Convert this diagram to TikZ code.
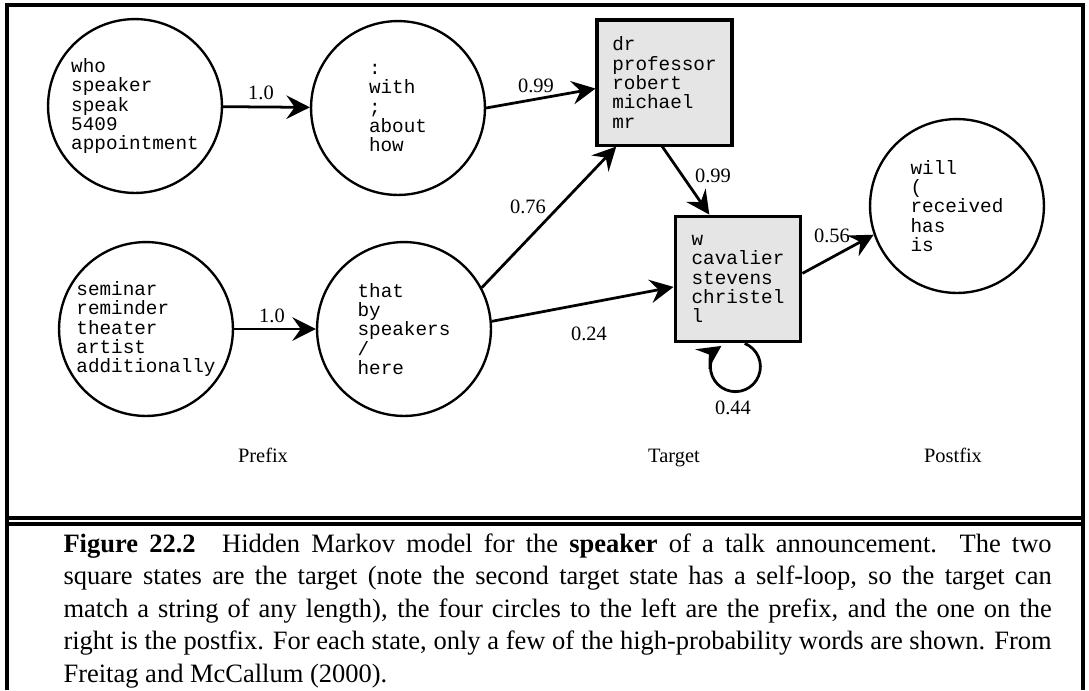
\documentclass[tikz,border=0pt]{standalone}
\usepackage{fontspec}
\setmainfont{Liberation Serif}
\setmonofont{Liberation Mono}
\usetikzlibrary{arrows.meta}

\tikzset{
  words/.style={inner sep=0pt, align=left, font=\fontsize{7}{7}\selectfont\ttfamily,
    execute at begin node={\rule{0pt}{8.4pt}}},
  state/.style={words, circle, draw, line width=0.85pt, minimum size=63pt},
  target/.style={words, rectangle, draw, line width=1.1pt, fill=black!10},
  trans/.style={-{Stealth[length=8.5pt,width=8.5pt,inset=3pt]}, line width=1pt},
  prob/.style={font=\fontsize{7.4}{8}\selectfont, inner sep=0pt},
}

\begin{document}
\begin{tikzpicture}[x=0.3623pt, y=0.3623pt]
  \useasboundingbox (0,0) rectangle (1089,-690);

  % Frame and double rule above the caption
  \draw[line width=1.3pt] (7,-690) -- (7,-5) -- (1083,-5) -- (1083,-690);
  \draw[line width=1.1pt] (7,-518) -- (1083,-518);
  \draw[line width=1.1pt] (7,-524) -- (1083,-524);

  % Prefix states
  \node[state] (who) at (135,-106) {who\\speaker\\speak\\5409\\appointment};
  \node[state] (with) at (398,-108) {:\\with\\;\\about\\how};
  \node[state] (seminar) at (146,-329) {seminar\\reminder\\theater\\artist\\additionally};
  \node[state] (that) at (404,-329) {that\\by\\speakers\\/\\here};

  % Target states
  \node[target, minimum width=48.9pt, minimum height=45.3pt] (dr) at (664.5,-82.5)
    {dr\\professor\\robert\\michael\\mr};
  \node[target, minimum width=45.6pt, minimum height=45.6pt] (w) at (738,-279)
    {w\\cavalier\\stevens\\christel\\l};

  % Postfix state
  \node[state] (will) at (957,-206) {will\\(\\received\\has\\is};

  % Transitions
  \draw[trans] (who) -- (with);
  \draw[trans] (seminar) -- (that);
  \draw[trans] (with.east) -- (dr.185);
  \draw[trans] (that.28) -- (dr.233);
  \draw[trans] (that.5) -- (w.187);
  \draw[trans] (dr.268) -- (w.114);
  \draw[trans] (w.5) -- (will.199);
  \draw[trans] (w.276) arc[start angle=68, end angle=-236, radius=25];

  % Transition probabilities
  \node[prob] (p1) at (261,-93) {1.0};
  \node[prob] (p2) at (272,-316) {1.0};
  \node[prob] (p3) at (536,-86) {0.99};
  \node[prob] (p4) at (528,-207) {0.76};
  \node[prob] (p5) at (713,-176) {0.99};
  \node[prob] (p6) at (589,-334) {0.24};
  \node[prob] (p7) at (832,-236) {0.56};
  \node[prob] (p8) at (733,-408) {0.44};

  % Group labels
  \node[prob, anchor=base] (prefix) at (263,-462) {Prefix};
  \node[prob, anchor=base] (tgt) at (674,-462) {Target};
  \node[prob, anchor=base] (postfix) at (953,-462) {Postfix};

  % Caption
  \node[anchor=north west, inner sep=0pt, text width=358pt, align=justify,
    font=\fontsize{9.6}{11.8}\selectfont] (caption) at (63,-533)
    {\textbf{Figure 22.2}\quad Hidden Markov model for the \textbf{speaker} of a talk
     announcement. The two\linebreak square states are the target (note the second
     target state has a self-loop, so the target can\linebreak match a string of any
     length), the four circles to the left are the prefix, and the one on the\linebreak
     right is the postfix. For each state, only a few of the high-probability words
     are shown. From\linebreak Freitag and McCallum (2000).};
\end{tikzpicture}
\end{document}
